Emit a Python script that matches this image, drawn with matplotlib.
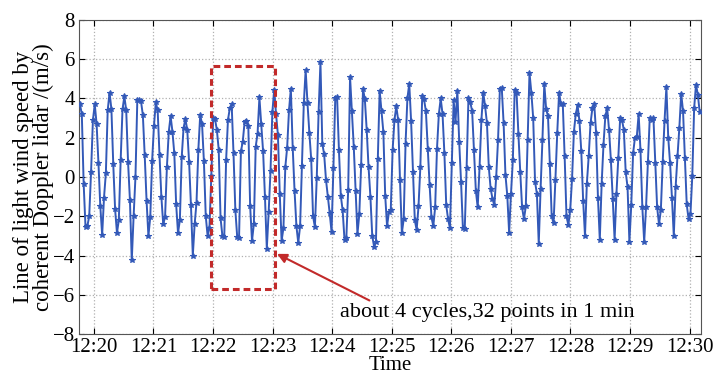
import numpy as np
import matplotlib
matplotlib.use("Agg")
import matplotlib.pyplot as plt
import matplotlib.dates as mdates
from matplotlib.patches import Rectangle

plt.rcParams['font.family'] = ['Liberation Serif', 'DejaVu Serif']
plt.rcParams['mathtext.fontset'] = 'dejavuserif'

# datos, un ciclo (~8 puntos) por fila
velocidad = [
    3.7, 3.2, -0.35, -2.55, -2.5, -2.0, 0.25, 2.9,
    3.7, 2.7, 0.7, -1.5, -2.95, -1.05, 0.2, 3.4,
    4.3, 3.45, 0.65, -1.65, -2.85, -2.2, 0.85, 3.45,
    4.1, 3.4, 0.75, -1.15, -4.25, -2.0, 0.0, 3.9,
    3.9, 3.85, 3.15, 1.1, -1.2, -3.0, -2.05, 0.8, 2.6,
    3.8, 3.4, 1.1, -1.0, -2.4, -2.05, 0.5, 2.3,
    3.1, 2.3, 1.2, -1.4, -2.85, -2.2, 1.0, 2.5,
    2.95, 2.4, 0.75, -1.45, -4.0, -2.4, -1.3, 1.4,
    3.15, 2.7, 0.8, -2.0, -3.0, -2.6, 0.05,
    3.0, 2.95, 2.4, 1.4, -2.1, -3.0, -3.05, 0.85, 2.9, 3.5,
    3.7, 1.2, -1.7, -3.05, -3.1, 1.3, 1.8, 2.8,
    2.85, 2.6, -1.5, -3.25, -2.4, 1.55, 2.2,
    4.05, 2.7, 1.3, -1.0, -3.65, -1.8, 0.3, 3.3,
    4.45, 3.2, 2.15, -0.85, -3.25, -2.6, 0.5, 1.5, 3.4,
    4.5, 1.5, -0.7, -2.5, -3.35, -2.5, 0.55, 3.75,
    5.45, 3.75, 2.25, 0.9, -2.0, -2.55, -0.05, 3.3,
    5.85, 1.7, 1.15, -0.15, -1.0, -1.85, -2.8, 0.45,
    4.0, 4.05, 1.35, -0.95, -1.7, -3.2, -3.1, -0.65,
    5.1, 3.35, 1.55, -0.7, -2.9, -1.9, 0.6,
    4.5, 3.95, 2.4, 0.5, -1.0, -3.0, -3.55, -3.3, 0.9,
    4.4, 3.35, 2.3, -0.95, -2.5, -1.8, -1.7, 1.35, 2.9,
    3.6, 2.9, -0.15, -2.85, -2.15, 1.7, 4.0,
    4.75, 2.85, 0.25, -2.2, -2.7, -1.5, 0.5,
    4.1, 3.95, 3.35, 1.45, -0.4, -2.05, -2.5, -1.55, 1.45, 3.2,
    4.0, 3.2, 1.2, -1.45, -2.15, -2.6, 0.7, 3.9,
    2.8, 4.4, 1.8, -0.25, -2.6, -2.65, 0.45,
    4.0, 3.8, 3.35, 1.35, -0.7, -1.55, 0.5, 2.9,
    4.3, 3.6, 2.75, 0.5, -0.6, -1.1, -1.45, 0.0, 1.9,
    4.5, 4.55, 2.75, 0.1, -0.95, -2.85, -0.85, 0.85,
    4.45, 4.3, 2.2, 0.25, -1.55, -2.15, -1.5, 1.9,
    5.3, 4.3, 3.0, -0.25, -0.85, -3.4, -0.6, 1.9,
    4.75, 3.45, 3.1, 0.65, -2.0, -2.35, -0.15, 2.25,
    4.3, 3.7, 3.7, 1.05, -2.0, -2.45, -1.7, -0.1, 2.3, 3.2,
    3.65, 2.85, 1.3, -1.2, -3.0, -0.35, 1.05, 2.75, 3.5,
    3.7, 2.25, -1.05, -3.2, -0.35, 1.65, 3.1,
    3.5, 2.4, 0.85, -1.1, -3.2, -0.85, 0.95,
    3.0, 2.9, 2.4, 0.25, -0.5, -3.3, -1.45, 1.2, 2.0, 2.05,
    3.2, 1.35, -1.55, -3.3, -1.55, 0.75, 3.0,
    2.9, 3.0, 0.7, -1.55, -2.4, -1.7, 0.75, 2.85,
    4.6, 2.0, 0.7, -1.05, -3.0, -0.5, 1.05, 2.5,
    4.25, 3.35, 0.95, -1.4, -2.15, -1.9, 0.05, 3.5, 4.7, 4.2, 3.3,
]

inicio = np.datetime64('2020-01-01T12:19:46')
paso_ms = 1863  # ~32 puntos por minuto
tiempos = inicio + np.arange(len(velocidad)) * np.timedelta64(paso_ms, 'ms')
tiempos = tiempos.astype('datetime64[ms]').astype(object)

marcas_x = [np.datetime64(f'2020-01-01T12:{m:02d}:00').astype(object) for m in range(20, 31)]
marcas_y = [-8, -6, -4, -2, 0, 2, 4, 6, 8]

texto_nota = "about 4 cycles,32 points in 1 min"
caja_t0 = np.datetime64('2020-01-01T12:21:58').astype(object)
caja_t1 = np.datetime64('2020-01-01T12:23:02').astype(object)
caja_y = (-5.7, 5.65)


def hora(s):
    return np.datetime64('2020-01-01T' + s).astype(object)


fig = plt.figure(figsize=(7.14, 3.75), dpi=100)
ax = fig.add_axes([0.1106, 0.109, 0.8706, 0.838])

azul = '#3359b8'
rojo = '#c22a2a'

ax.plot(tiempos, velocidad, color=azul, linewidth=1.4, marker='*', markersize=3.8,
        markeredgewidth=0.8, zorder=3)

ax.set_xlim(hora('12:19:45'), hora('12:30:11'))
ax.set_ylim(-8, 8)
ax.set_xticks(marcas_x)
ax.xaxis.set_major_formatter(mdates.DateFormatter('%H:%M'))
ax.set_yticks(marcas_y)
ax.tick_params(direction='in', top=True, right=True, labelsize=15, length=4, pad=3)
ax.grid(True, linestyle=':', color='#b0b0b0', linewidth=0.9, zorder=0)
for s in ax.spines.values():
    s.set_color('#555555')

# fondo blanco del texto tapa la rejilla
x0 = mdates.date2num(hora('12:23:35'))
x1 = mdates.date2num(hora('12:30:11'))
ax.add_patch(Rectangle((x0, -8), x1 - x0, 3.5, facecolor='white', edgecolor='none', zorder=1))

# caja punteada roja
c0 = mdates.date2num(caja_t0)
c1 = mdates.date2num(caja_t1)
ax.add_patch(Rectangle((c0, caja_y[0]), c1 - c0, caja_y[1] - caja_y[0], fill=False,
                       edgecolor=rojo, linestyle=(0, (2.2, 1.3)), linewidth=2.2, zorder=4))

ax.annotate('', xy=(hora('12:23:02'), -3.85), xytext=(hora('12:24:40'), -6.35),
            arrowprops=dict(arrowstyle='-|>', color=rojo, lw=1.5, mutation_scale=14),
            zorder=5)
ax.text(hora('12:24:08'), -6.9, texto_nota, fontsize=16, ha='left', va='center', zorder=5)

ax.set_ylabel("Line of light wind speed by\ncoherent Doppler lidar /(m/s)", fontsize=16.5,
              linespacing=0.92, labelpad=-1)
ax.set_xlabel("Time", fontsize=15, labelpad=-1)

fig.savefig("out.png", dpi=100)
